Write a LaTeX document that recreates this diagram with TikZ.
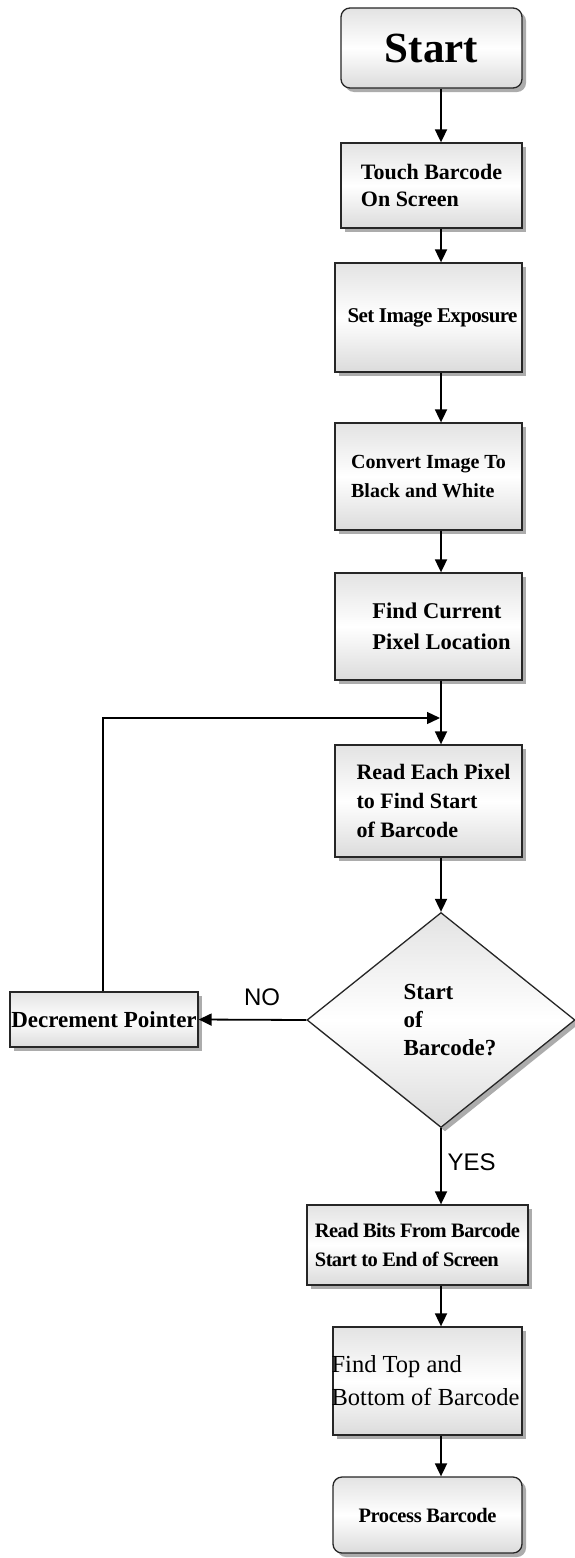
\documentclass[tikz,border=0pt]{standalone}
\usepackage{fontspec}
\setmainfont{Liberation Serif}
\newfontfamily\labelsans{Liberation Sans}
\usetikzlibrary{shapes.geometric,arrows.meta,shadows}
\begin{document}
\begin{tikzpicture}[x=1pt,y=-1pt,
  shade box/.style={draw=black!85, line width=1.3pt, top color=gray!22, bottom color=gray!28, middle color=white,
    drop shadow={shadow xshift=4pt, shadow yshift=-4pt, fill=gray!65, opacity=1},
    inner sep=0pt},
  procbox/.style={shade box, rectangle, font=\bfseries\fontsize{19}{26}\selectfont, align=left},
  arr/.style={line width=1.8pt, -{Triangle[length=13pt,width=12pt]}},
  lbl/.style={font=\labelsans\fontsize{24}{24}\selectfont}]
\useasboundingbox (0,0) rectangle (574,1558);
\fill[white] (0,0) rectangle (574,1558);

\node[shade box, rounded corners=9pt, minimum width=181pt, minimum height=80pt, font=\bfseries\fontsize{43}{43}\selectfont] (start) at (431.5,48) {Start};
\node[procbox, minimum width=181pt, minimum height=85pt, font=\bfseries\fontsize{22}{27}\selectfont] (touch) at (431.5,185.5) {Touch Barcode\\On Screen};
\node[procbox, minimum width=187pt, minimum height=109pt, font=\bfseries\fontsize{21}{26}\selectfont\addfontfeatures{LetterSpace=-3}] (expo) at (428.5,317.5) {\hspace*{8pt}Set Image Exposure};
\node[procbox, minimum width=187pt, minimum height=107pt, font=\bfseries\fontsize{20}{29}\selectfont] (conv) at (428.5,476.5) {Convert Image To\\Black and White};
\node[procbox, minimum width=187pt, minimum height=107pt, font=\bfseries\fontsize{22.5}{31}\selectfont] (find) at (428.5,626.5) {\hspace*{26pt}Find Current\\\hspace*{26pt}Pixel Location};
\node[procbox, minimum width=187pt, minimum height=112pt, font=\bfseries\fontsize{22}{29}\selectfont] (read) at (428.5,801) {\hspace*{10pt}Read Each Pixel\\\hspace*{10pt}to Find Start\\\hspace*{10pt}of Barcode};
\node[shade box, diamond, minimum width=268pt, minimum height=215pt, font=\bfseries\fontsize{23}{28}\selectfont, align=left] (dia) at (441,1020) {\hspace*{18pt}Start\\\hspace*{18pt}of\\\hspace*{18pt}Barcode?};
\node[procbox, minimum width=188pt, minimum height=55pt, font=\bfseries\fontsize{23}{24}\selectfont] (decr) at (104,1019.5) {Decrement Pointer};
\node[procbox, minimum width=221pt, minimum height=80pt, font=\bfseries\fontsize{20.5}{29}\selectfont\addfontfeatures{LetterSpace=-3}] (bits) at (417.5,1245) {Read Bits From Barcode\\Start to End of Screen};
\node[procbox, minimum width=189pt, minimum height=108pt, font=\fontsize{24.5}{33}\selectfont] (top) at (427.5,1381) {\hspace*{-4pt}Find Top and\\\hspace*{-4pt}Bottom of Barcode};
\node[shade box, rounded corners=9pt, minimum width=189pt, minimum height=76pt, font=\bfseries\fontsize{20.5}{26}\selectfont\addfontfeatures{LetterSpace=-2}] (proc) at (427.5,1515) {Process Barcode};

\coordinate (col) at (441,0);
\draw[arr] (start.south -| col) -- (touch.north -| col);
\draw[arr] (touch.south -| col) -- (expo.north -| col);
\draw[arr] (expo.south -| col) -- (conv.north -| col);
\draw[arr] (conv.south -| col) -- (find.north -| col);
\draw[arr] (find.south -| col) -- (read.north -| col);
\draw[arr] (read.south -| col) -- (dia.north);
\draw[arr] (dia.south) -- (bits.north -| col);
\draw[arr] (bits.south -| col) -- (top.north -| col);
\draw[arr] (top.south -| col) -- (proc.north -| col);
\draw[arr] (dia.west) -- (decr.east);
\coordinate (join) at (440,718);
\draw[line width=1.4pt, -{Triangle[length=13pt,width=12pt]}] (decr.north -| 103,0) -- (103,718) -- (join);

\node[lbl] (no) at (262,997) {NO};
\node[lbl, anchor=west] (yes) at (444,1162) {YES};
\end{tikzpicture}
\end{document}
